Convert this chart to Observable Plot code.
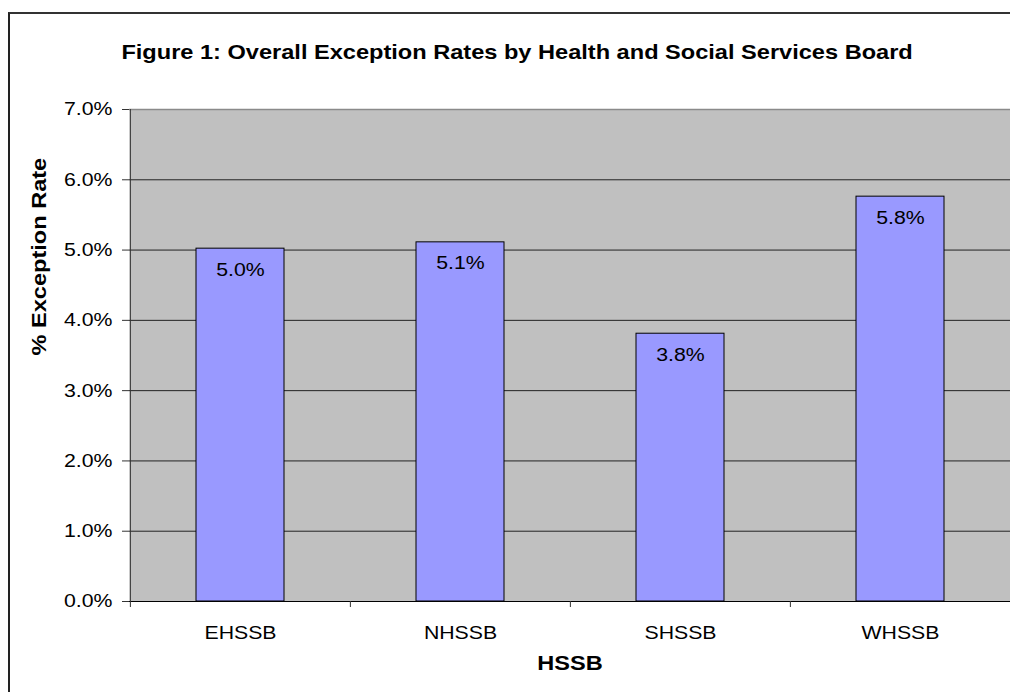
<!DOCTYPE html>
<html><head><meta charset="utf-8">
<script src="https://cdn.jsdelivr.net/npm/d3@7"></script>
<script src="https://cdn.jsdelivr.net/npm/@observablehq/plot@0.6"></script>
<style>
html,body{margin:0;padding:0;background:#fff;}
#frame{position:absolute;left:8px;top:12px;width:1002px;height:680px;border-left:2px solid #222;border-top:2px solid #333;box-sizing:border-box;}
#title{position:absolute;left:8px;top:42px;width:1002px;text-align:center;font:bold 20.5px "Liberation Sans",Arial,sans-serif;line-height:20px;color:#000;z-index:2;}
#title span{display:inline-block;transform:scaleX(1.15);position:relative;left:8px;}
#chart{position:absolute;left:0;top:0;width:1010px;height:692px;}
</style></head><body>
<div id="frame"></div>
<div id="title"><span id="titleText"></span></div>
<div id="chart"></div>
<script>
const titleText = "Figure 1: Overall Exception Rates by Health and Social Services Board";
const boards = ["EHSSB", "NHSSB", "SHSSB", "WHSSB"];
const rates = [0.0502, 0.0511, 0.0381, 0.0576];
const yTicks = [0, 0.01, 0.02, 0.03, 0.04, 0.05, 0.06, 0.07];
const xTitle = "HSSB";
const yTitle = "% Exception Rate";

document.getElementById("titleText").textContent = titleText;
const data = boards.map((b, i) => ({board: b, rate: rates[i]}));
const W = 1010, H = 692, mL = 129, mR = 0, mT = 109, mB = 91;
const step = (W - mL - mR) / boards.length;
const fmt = d3.format(".1%");
const font = '"Liberation Sans", Arial, sans-serif';

const plot = Plot.plot({
  width: W, height: H,
  marginLeft: mL, marginRight: mR, marginTop: mT, marginBottom: mB,
  style: {fontFamily: font, fontSize: "18px", color: "#000", background: "transparent", maxWidth: "none"},
  x: {type: "band", domain: boards, paddingInner: 0.6, paddingOuter: 0.3, align: 0.5, label: null},
  y: {domain: [0, 0.07], label: null},
  marks: [
    Plot.frame({fill: "#c0c0c0", stroke: "none"}),
    Plot.ruleY(yTicks.slice(1, -1), {stroke: "#222", strokeWidth: 1}),
    Plot.ruleY(yTicks.slice(-1), {stroke: "#8a8a8a", strokeWidth: 1.5}),
    Plot.barY(data, {x: "board", y: "rate", fill: "#9999ff", stroke: "#000", strokeWidth: 1}),
    Plot.ruleY([0], {stroke: "#000"}),
    Plot.ruleX([boards[0]], {dx: -step / 2, stroke: "#333"}),
    Plot.axisY({ticks: yTicks, tickFormat: fmt, tickSize: 7, tickPadding: 10, fontSize: 18.5, label: null, stroke: "#333"}),
    Plot.axisX({tickSize: 0, tickPadding: 24, fontSize: 18.5, label: null}),
    Plot.axisX({tickSize: 6, text: null, dx: -step / 2, label: null, stroke: "#333"}),
    Plot.text(data, {x: "board", y: "rate", text: d => fmt(d.rate), dy: 21, fontSize: 18.5, lineAnchor: "middle", fill: "#000"}),
    Plot.text([xTitle], {frameAnchor: "bottom", dy: 68, fontWeight: "bold", fontSize: 20.5, fill: "#000"}),
    Plot.text([yTitle], {frameAnchor: "left", dx: -90.5, rotate: -90, fontWeight: "bold", fontSize: 20.5, fill: "#000"})
  ]
});
document.getElementById("chart").append(plot);

// horizontal stretch of glyphs to match the reference's wide lettering
const S = 1.15;
plot.querySelectorAll("text").forEach(t => {
  const b = t.getBBox();
  if (!b.width) return;
  const a = getComputedStyle(t).textAnchor;
  const cx = a === "end" ? b.x + b.width : a === "middle" ? b.x + b.width / 2 : b.x;
  const tr = t.getAttribute("transform") || "";
  t.setAttribute("transform", `${tr} translate(${cx},0) scale(${S},1) translate(${-cx},0)`);
});
</script>
</body></html>
